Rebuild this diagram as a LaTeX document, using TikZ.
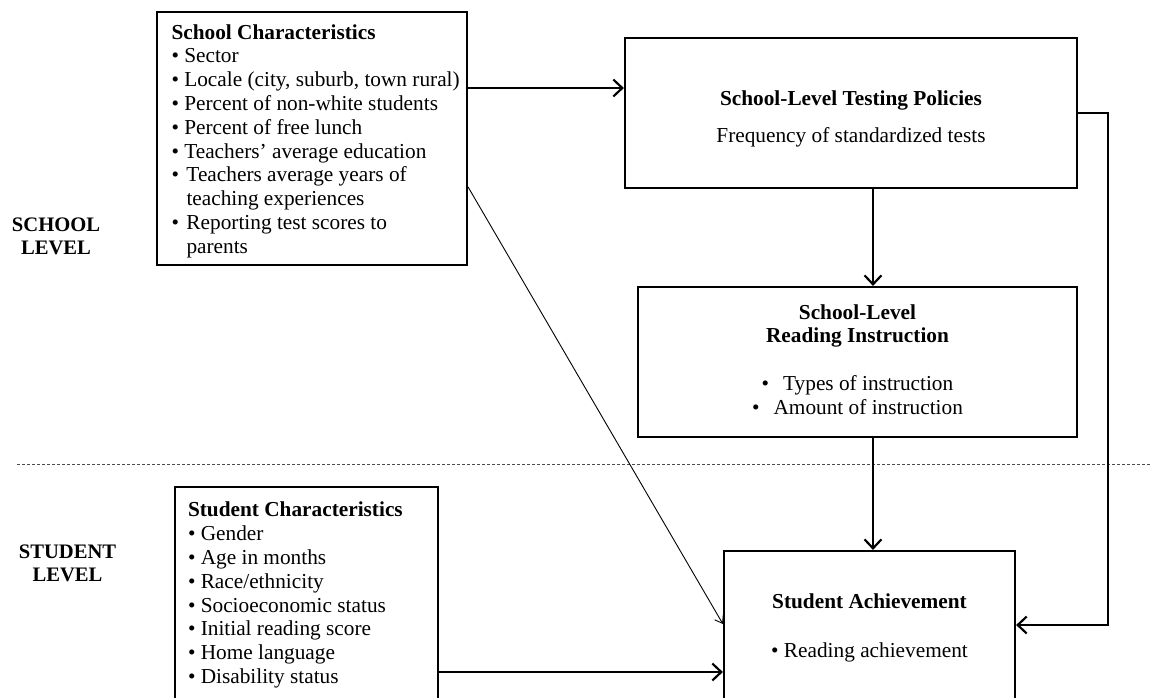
\documentclass[tikz,border=0pt]{standalone}
\usepackage{fontspec}
\setmainfont{Liberation Serif}
\usetikzlibrary{arrows.meta}
\newcommand\hangbullet{\makebox[15pt][l]{•}}
\begin{document}
\begin{tikzpicture}[x=1pt,y=-1pt,
  box/.style={draw, line width=2.2pt, inner sep=0pt, font=\fontsize{21.3}{23.8}\selectfont},
  arr/.style={line width=2.2pt, -{Straight Barb[length=9pt,width=17pt]}},
  thinarr/.style={line width=0.9pt, -{Straight Barb[length=7pt,width=10pt]}},
  lvl/.style={align=center, inner sep=0pt, font=\fontsize{20.6}{23}\selectfont\bfseries},
  sepline/.style={dash pattern=on 3pt off 2pt, line width=1pt, black!70}]
\useasboundingbox (0,0) rectangle (1151,697);
\clip (0,0) rectangle (1151,697);

% School characteristics
\node[box, minimum width=310pt, minimum height=253pt] (school) at (312,138.5)
{\makebox[310pt][l]{\begin{tabular}{@{\hspace{14.5pt}}l@{}}
\rule{0pt}{22.7pt}\textbf{School Characteristics}\\
• Sector\\
• Locale (city, suburb, town rural)\\
• Percent of non-white students\\
• Percent of free lunch\\
• Teachers’ average education\\
\hangbullet Teachers average years of\\
\hspace*{15pt}teaching experiences\\
\hangbullet Reporting test scores to\\
\hspace*{15pt}parents
\end{tabular}}};

% Testing policies
\node[box, minimum width=452pt, minimum height=150pt] (tp) at (851,113)
{\begin{tabular}{@{}c@{}}
\rule{0pt}{30pt}\textbf{School-Level Testing Policies}\\[13.2pt]
Frequency of standardized tests
\end{tabular}};

% Reading instruction
\node[box, minimum width=439pt, minimum height=150pt] (ri) at (857.5,362)
{\begin{tabular}{@{}c@{}}
\textbf{School-Level}\\
\textbf{Reading Instruction}\\[23.8pt]
•\hspace{14pt}Types of instruction\\
•\hspace{14pt}Amount of instruction
\end{tabular}};

% Student characteristics
\node[box, minimum width=263pt, minimum height=217pt] (st) at (306.5,595.5)
{\makebox[263pt][l]{\begin{tabular}{@{\hspace{13pt}}l@{}}
\textbf{Student Characteristics}\\
• Gender\\
• Age in months\\
• Race/ethnicity\\
• Socioeconomic status\\
• Initial reading score\\
• Home language\\
• Disability status
\end{tabular}}};

% Student achievement
\node[box, minimum width=291pt, minimum height=155pt] (sa) at (869.5,628.5)
{\begin{tabular}{@{}c@{}}
\textbf{Student Achievement}\\[25pt]
• Reading achievement
\end{tabular}};

% Level labels
\node[lvl] (lschool) at (56,236.5) {SCHOOL\\LEVEL};
\node[lvl] (lstudent) at (67.5,563.5) {STUDENT\\LEVEL};

% Separator
\draw[sepline] (17,464) -- (1151,464);

% Connectors
\coordinate (rc) at (1108,625);
\draw[arr] (school.east |- 0,88) -- (tp.west |- 0,88);
\draw[arr] (tp.south -| 873,0) -- (ri.north -| 873,0);
\draw[arr] (ri.south -| 873,0) -- (sa.north -| 873,0);
\draw[arr] (tp.east) -| (rc) -- (sa.east |- rc);
\draw[thinarr] (school.east |- 0,187) -- (sa.west |- 0,624);
\draw[arr] (st.east |- 0,672) -- (sa.west |- 0,672);
\end{tikzpicture}
\end{document}
